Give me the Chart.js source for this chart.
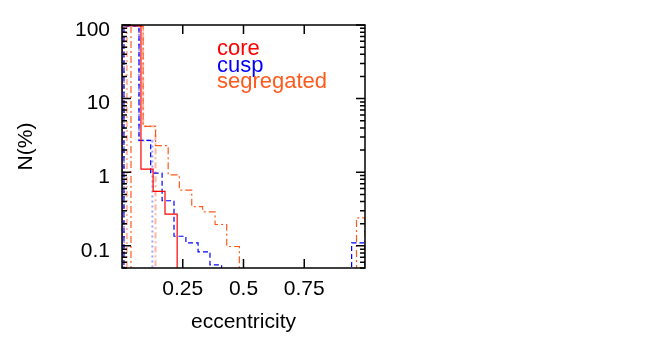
<!DOCTYPE html>
<html>
<head>
<meta charset="utf-8">
<script src="https://cdn.jsdelivr.net/npm/chart.js@4/dist/chart.umd.min.js"></script>
<style>
  html, body { margin: 0; padding: 0; background: #fff; }
  #wrap { width: 650px; height: 350px; }
</style>
</head>
<body>
<div id="wrap"><canvas id="chart"></canvas></div>
<script>
// bin edges (eccentricity) and bin heights N(%)
const coreEdges = [0.0, 0.078, 0.128, 0.177, 0.227];
const coreVals  = [98, 1.1, 0.55, 0.27];

const cuspEdges = [0.008, 0.07, 0.118, 0.165, 0.214, 0.263, 0.313, 0.362, 0.41, 0.945, 1.0];
const cuspVals  = [97, 2.7, 0.97, 0.41, 0.135, 0.11, 0.083, 0.055, 0, 0.11];

const segEdges = [0.037, 0.087, 0.138, 0.19, 0.236, 0.287, 0.332, 0.383, 0.431, 0.483, 0.965, 1.0];
const segVals  = [96, 4.2, 2.3, 0.92, 0.57, 0.34, 0.29, 0.195, 0.098, 0, 0.24];

// fainter second run of cusp / segregated
const cuspEdges2 = [0.008, 0.07, 0.125];
const cuspVals2  = [97, 2.7];
const segEdges2  = [0.02, 0.087, 0.138];
const segVals2   = [97, 4.2];

const xTicks = [0.25, 0.5, 0.75];
const xTickLabels = ['0.25', '0.5', '0.75'];
const yTicks = [0.1, 1, 10, 100];
const yTickLabels = ['0.1', '1', '10', '100'];
const legendNames = ['core', 'cusp', 'segregated'];

const FONT = "'Liberation Sans', Arial, sans-serif";
const RED = '#ff0000', BLUE = '#0000ff', ORANGE = '#ff5a1e';

// empty bins sit below the log axis, so they get clipped away
function steps(edges, vals) {
    const floor = 0.001;
    const pts = [{ x: edges[0], y: floor }];
    vals.forEach((v, i) => pts.push({ x: edges[i], y: v > 0 ? v : floor }));
    pts.push({ x: edges[edges.length - 1], y: floor });
    return pts;
}

function ds(label, edges, vals, color, width, dash) {
    return {
        label: label,
        data: steps(edges, vals),
        borderColor: color,
        borderWidth: width,
        borderDash: dash,
        stepped: 'before',
        pointRadius: 0,
        fill: false
    };
}

// frame, inward ticks on all sides, and the coloured key
const decorations = {
    id: 'decorations',
    afterDatasetsDraw(chart) {
        const ctx = chart.ctx;
        const a = chart.chartArea;
        const xs = chart.scales.x, ys = chart.scales.y;
        ctx.save();
        ctx.strokeStyle = '#000';
        ctx.lineWidth = 1.5;
        ctx.beginPath();
        xTicks.forEach(v => {
            const px = xs.getPixelForValue(v);
            ctx.moveTo(px, a.bottom); ctx.lineTo(px, a.bottom - 9);
            ctx.moveTo(px, a.top); ctx.lineTo(px, a.top + 9);
        });
        for (let e = -2; e <= 2; e++) {
            for (let m = 1; m <= 9; m++) {
                const v = m * Math.pow(10, e);
                if (v < ys.min || v > ys.max) continue;
                const py = ys.getPixelForValue(v);
                const len = m === 1 ? 9 : 5;
                ctx.moveTo(a.left, py); ctx.lineTo(a.left + len, py);
                ctx.moveTo(a.right, py); ctx.lineTo(a.right - len, py);
            }
        }
        ctx.stroke();
        ctx.strokeRect(a.left, a.top, a.right - a.left, a.bottom - a.top);

        ctx.font = '22px ' + FONT;
        ctx.textAlign = 'left';
        ctx.textBaseline = 'alphabetic';
        const colors = [RED, BLUE, ORANGE];
        const base = [55, 71.5, 88];
        legendNames.forEach((n, i) => {
            ctx.fillStyle = colors[i];
            ctx.fillText(n, 217, base[i]);
        });
        ctx.restore();
    }
};

new Chart(document.getElementById('chart'), {
    type: 'line',
    data: {
        datasets: [
            ds('core', coreEdges, coreVals, RED, 1.2, []),
            ds('cusp', cuspEdges, cuspVals, BLUE, 1.2, [5, 3]),
            ds('segregated', segEdges, segVals, ORANGE, 1.2, [7, 3, 2, 3]),
            ds('cusp 2', cuspEdges2, cuspVals2, 'rgba(70,70,255,0.5)', 2, [2, 3]),
            ds('segregated 2', segEdges2, segVals2, 'rgba(255,110,60,0.5)', 2, [6, 3, 2, 3])
        ]
    },
    options: {
        responsive: true,
        maintainAspectRatio: false,
        animation: false,
        layout: { padding: { left: 10, right: 285, top: 25, bottom: 10 } },
        plugins: { legend: { display: false }, tooltip: { enabled: false } },
        scales: {
            x: {
                type: 'linear',
                min: 0, max: 1,
                afterBuildTicks: s => { s.ticks = xTicks.map(v => ({ value: v })); },
                afterFit: s => { s.height = 72; },
                grid: { display: false, drawTicks: false },
                border: { display: false },
                ticks: {
                    color: '#000', padding: 9, maxRotation: 0, autoSkip: false,
                    font: { family: FONT, size: 21 },
                    callback: (v, i) => xTickLabels[i]
                },
                title: {
                    display: true, text: 'eccentricity', color: '#000',
                    font: { family: FONT, size: 21 },
                    padding: { top: 0, bottom: 5 }
                }
            },
            y: {
                type: 'logarithmic',
                min: 0.05, max: 100,
                afterBuildTicks: s => { s.ticks = yTicks.map(v => ({ value: v })); },
                afterFit: s => { s.width = 112; },
                grid: { display: false, drawTicks: false },
                border: { display: false },
                ticks: {
                    color: '#000', padding: 12, labelOffset: 5, autoSkip: false,
                    font: { family: FONT, size: 21 },
                    callback: (v, i) => yTickLabels[i]
                },
                title: {
                    display: true, text: 'N(%)', color: '#000',
                    font: { family: FONT, size: 21 },
                    padding: { top: 4, bottom: 0 }
                }
            }
        }
    },
    plugins: [decorations]
});
</script>
</body>
</html>
